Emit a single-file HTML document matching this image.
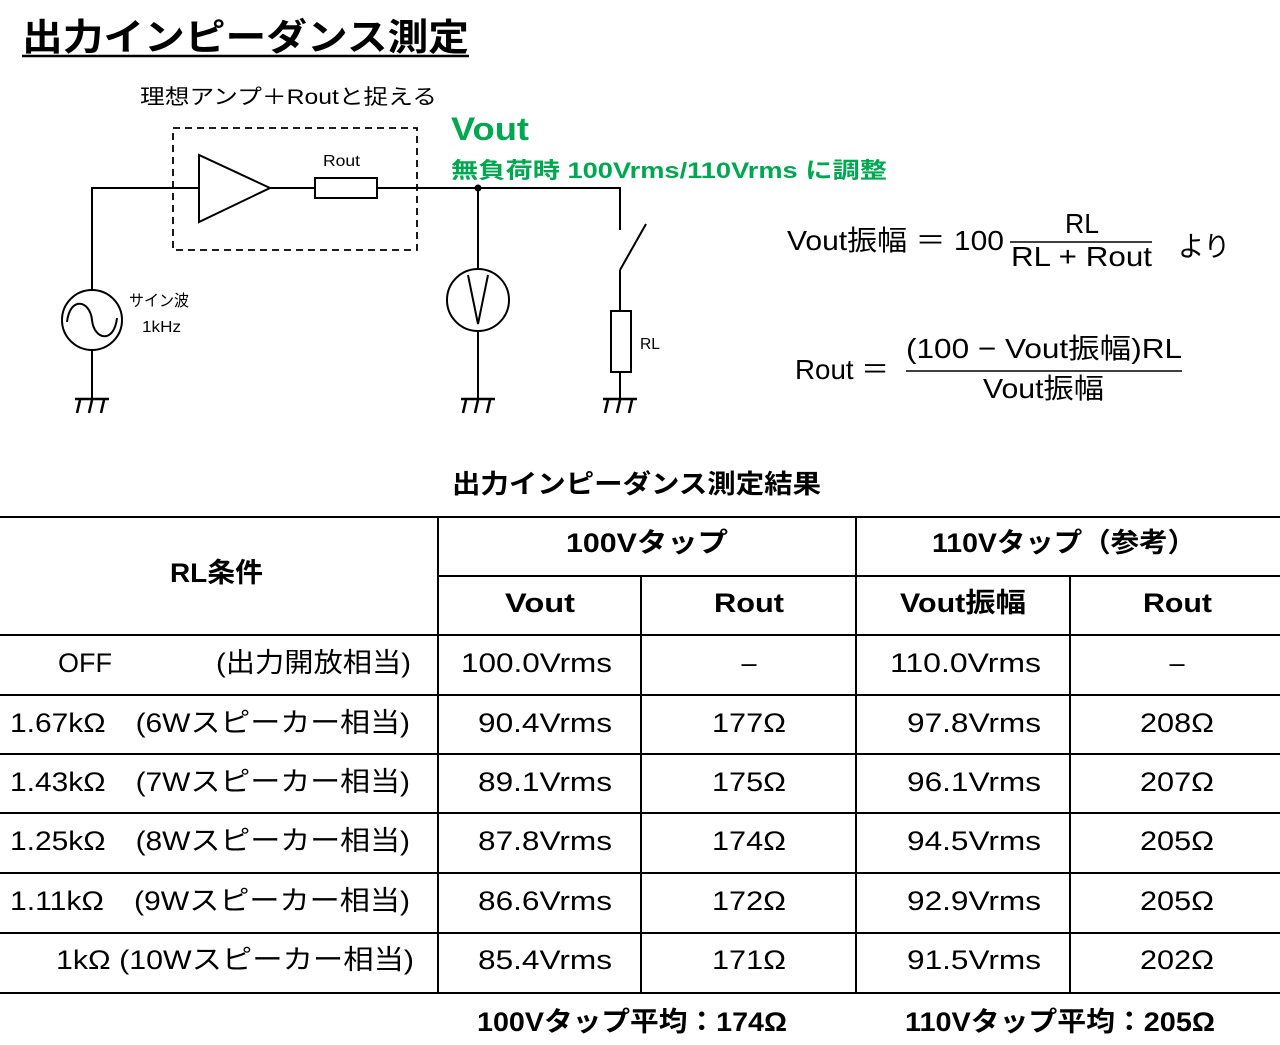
<!DOCTYPE html>
<html><head><meta charset="utf-8"><style>
html,body{margin:0;padding:0;background:#fff;}
svg{display:block}
text{font-family:"Liberation Sans","Noto Sans CJK JP",sans-serif;fill:#000}
.b{font-weight:bold}
</style></head><body>
<svg width="1280" height="1045" viewBox="0 0 1280 1045" xmlns="http://www.w3.org/2000/svg">
<text x="22" y="50" font-size="37" class="b" textLength="447" lengthAdjust="spacingAndGlyphs">出力インピーダンス測定</text>
<line x1="22" y1="56" x2="469" y2="56" stroke="#000" stroke-width="2.5"/>
<text x="140" y="104" font-size="21" textLength="297" lengthAdjust="spacingAndGlyphs">理想アンプ＋Routと捉える</text>
<text x="451" y="140" font-size="32" class="b" style="fill:#00a84f" textLength="78" lengthAdjust="spacingAndGlyphs">Vout</text>
<text x="451" y="178" font-size="22" class="b" style="fill:#00a84f" textLength="436" lengthAdjust="spacingAndGlyphs">無負荷時 100Vrms/110Vrms に調整</text>

<g stroke="#000" stroke-width="2" fill="none">
<rect x="173" y="128" width="244" height="122" stroke-dasharray="7,5" stroke-width="1.8"/>
<polyline points="92,290 92,188 199,188"/>
<polygon points="199,155 199,222 270,188" fill="#fff"/>
<line x1="270" y1="188" x2="315" y2="188"/>
<rect x="315" y="178" width="62" height="20" fill="#fff"/>
<polyline points="377,188 620,188 620,230"/>
<line x1="620" y1="270" x2="646" y2="224"/>
<line x1="620" y1="270" x2="620" y2="311"/>
<rect x="611" y="311" width="20" height="61" fill="#fff"/>
<line x1="620" y1="372" x2="620" y2="398"/>
<line x1="478" y1="188" x2="478" y2="269"/>
<circle cx="478" cy="300" r="31" fill="#fff"/>
<polyline points="468,275 478,324 488,275"/>
<line x1="478" y1="331" x2="478" y2="398"/>
<circle cx="92" cy="320" r="30" fill="#fff"/>
<path d="M67,322 C70,296 90,300 92,320 C94,340 114,344 117,318"/>
<line x1="92" y1="350" x2="92" y2="398"/>
<g stroke-width="2.5">
<line x1="75" y1="399" x2="109" y2="399"/><line x1="80" y1="400" x2="77" y2="413"/><line x1="92" y1="400" x2="89" y2="413"/><line x1="104" y1="400" x2="101" y2="413"/>
<line x1="461" y1="399" x2="495" y2="399"/><line x1="466" y1="400" x2="463" y2="413"/><line x1="478" y1="400" x2="475" y2="413"/><line x1="490" y1="400" x2="487" y2="413"/>
<line x1="603" y1="399" x2="637" y2="399"/><line x1="608" y1="400" x2="605" y2="413"/><line x1="620" y1="400" x2="617" y2="413"/><line x1="632" y1="400" x2="629" y2="413"/>
</g>
</g>
<circle cx="478" cy="188" r="3.5" fill="#000"/>
<text x="323" y="166" font-size="16" textLength="37" lengthAdjust="spacingAndGlyphs">Rout</text>
<text x="129" y="306" font-size="16" textLength="60" lengthAdjust="spacingAndGlyphs">サイン波</text>
<text x="142" y="332" font-size="16" textLength="39" lengthAdjust="spacingAndGlyphs">1kHz</text>
<text x="640" y="349" font-size="16" textLength="20" lengthAdjust="spacingAndGlyphs">RL</text>

<text x="787" y="250" font-size="28" textLength="217" lengthAdjust="spacingAndGlyphs">Vout振幅 ＝ 100</text>
<text x="1065" y="233" font-size="28" textLength="34" lengthAdjust="spacingAndGlyphs">RL</text>
<line x1="1010" y1="242" x2="1152" y2="242" stroke="#000" stroke-width="1.5"/>
<text x="1011" y="266" font-size="28" textLength="141" lengthAdjust="spacingAndGlyphs">RL + Rout</text>
<text x="1178" y="256" font-size="28" textLength="52" lengthAdjust="spacingAndGlyphs">より</text>
<text x="795" y="379" font-size="28" textLength="94" lengthAdjust="spacingAndGlyphs">Rout ＝</text>
<text x="906" y="358" font-size="28" textLength="276" lengthAdjust="spacingAndGlyphs">(100 − Vout振幅)RL</text>
<line x1="906" y1="371" x2="1182" y2="371" stroke="#000" stroke-width="1.5"/>
<text x="983" y="398" font-size="28" textLength="121" lengthAdjust="spacingAndGlyphs">Vout振幅</text>

<text x="452" y="493" font-size="26" class="b" textLength="369" lengthAdjust="spacingAndGlyphs">出力インピーダンス測定結果</text>

<g stroke="#000" stroke-width="2">
<line x1="0" y1="517" x2="1280" y2="517"/>
<line x1="438" y1="576" x2="1280" y2="576"/>
<line x1="0" y1="635" x2="1280" y2="635"/>
<line x1="0" y1="695" x2="1280" y2="695"/>
<line x1="0" y1="754" x2="1280" y2="754"/>
<line x1="0" y1="813" x2="1280" y2="813"/>
<line x1="0" y1="873" x2="1280" y2="873"/>
<line x1="0" y1="933" x2="1280" y2="933"/>
<line x1="0" y1="993" x2="1280" y2="993"/>
<line x1="438" y1="517" x2="438" y2="993"/>
<line x1="856" y1="517" x2="856" y2="993"/>
<line x1="641" y1="576" x2="641" y2="993"/>
<line x1="1070" y1="576" x2="1070" y2="993"/>
</g>
<g font-size="27" class="b">
<text x="170" y="582" textLength="93" lengthAdjust="spacingAndGlyphs">RL条件</text>
<text x="566" y="552" textLength="162" lengthAdjust="spacingAndGlyphs">100Vタップ</text>
<text x="932" y="552" textLength="264" lengthAdjust="spacingAndGlyphs">110Vタップ（参考）</text>
<text x="505" y="612" textLength="70" lengthAdjust="spacingAndGlyphs">Vout</text>
<text x="714" y="612" textLength="70" lengthAdjust="spacingAndGlyphs">Rout</text>
<text x="900" y="612" textLength="126" lengthAdjust="spacingAndGlyphs">Vout振幅</text>
<text x="1143" y="612" textLength="69" lengthAdjust="spacingAndGlyphs">Rout</text>
</g>
<g font-size="27">
<text x="58" y="672" textLength="54" lengthAdjust="spacingAndGlyphs">OFF</text><text x="216" y="672" textLength="195" lengthAdjust="spacingAndGlyphs">(出力開放相当)</text>
<text x="461" y="672" textLength="151" lengthAdjust="spacingAndGlyphs">100.0Vrms</text><text x="749" y="672" text-anchor="middle">–</text>
<text x="890" y="672" textLength="151" lengthAdjust="spacingAndGlyphs">110.0Vrms</text><text x="1177" y="672" text-anchor="middle">–</text>

<text x="10" y="732" textLength="400" lengthAdjust="spacingAndGlyphs">1.67kΩ　(6Wスピーカー相当)</text>
<text x="478" y="732" textLength="134" lengthAdjust="spacingAndGlyphs">90.4Vrms</text><text x="712" y="732" textLength="74" lengthAdjust="spacingAndGlyphs">177Ω</text>
<text x="907" y="732" textLength="134" lengthAdjust="spacingAndGlyphs">97.8Vrms</text><text x="1140" y="732" textLength="74" lengthAdjust="spacingAndGlyphs">208Ω</text>

<text x="10" y="791" textLength="400" lengthAdjust="spacingAndGlyphs">1.43kΩ　(7Wスピーカー相当)</text>
<text x="478" y="791" textLength="134" lengthAdjust="spacingAndGlyphs">89.1Vrms</text><text x="712" y="791" textLength="74" lengthAdjust="spacingAndGlyphs">175Ω</text>
<text x="907" y="791" textLength="134" lengthAdjust="spacingAndGlyphs">96.1Vrms</text><text x="1140" y="791" textLength="74" lengthAdjust="spacingAndGlyphs">207Ω</text>

<text x="10" y="850" textLength="400" lengthAdjust="spacingAndGlyphs">1.25kΩ　(8Wスピーカー相当)</text>
<text x="478" y="850" textLength="134" lengthAdjust="spacingAndGlyphs">87.8Vrms</text><text x="712" y="850" textLength="74" lengthAdjust="spacingAndGlyphs">174Ω</text>
<text x="907" y="850" textLength="134" lengthAdjust="spacingAndGlyphs">94.5Vrms</text><text x="1140" y="850" textLength="74" lengthAdjust="spacingAndGlyphs">205Ω</text>

<text x="10" y="910" textLength="400" lengthAdjust="spacingAndGlyphs">1.11kΩ　(9Wスピーカー相当)</text>
<text x="478" y="910" textLength="134" lengthAdjust="spacingAndGlyphs">86.6Vrms</text><text x="712" y="910" textLength="74" lengthAdjust="spacingAndGlyphs">172Ω</text>
<text x="907" y="910" textLength="134" lengthAdjust="spacingAndGlyphs">92.9Vrms</text><text x="1140" y="910" textLength="74" lengthAdjust="spacingAndGlyphs">205Ω</text>

<text x="56" y="969" textLength="358" lengthAdjust="spacingAndGlyphs">1kΩ  (10Wスピーカー相当)</text>
<text x="478" y="969" textLength="134" lengthAdjust="spacingAndGlyphs">85.4Vrms</text><text x="712" y="969" textLength="74" lengthAdjust="spacingAndGlyphs">171Ω</text>
<text x="907" y="969" textLength="134" lengthAdjust="spacingAndGlyphs">91.5Vrms</text><text x="1140" y="969" textLength="74" lengthAdjust="spacingAndGlyphs">202Ω</text>
</g>
<text x="477" y="1031" font-size="27" class="b" textLength="310" lengthAdjust="spacingAndGlyphs">100Vタップ平均：174Ω</text>
<text x="905" y="1031" font-size="27" class="b" textLength="310" lengthAdjust="spacingAndGlyphs">110Vタップ平均：205Ω</text>
</svg>
</body></html>
